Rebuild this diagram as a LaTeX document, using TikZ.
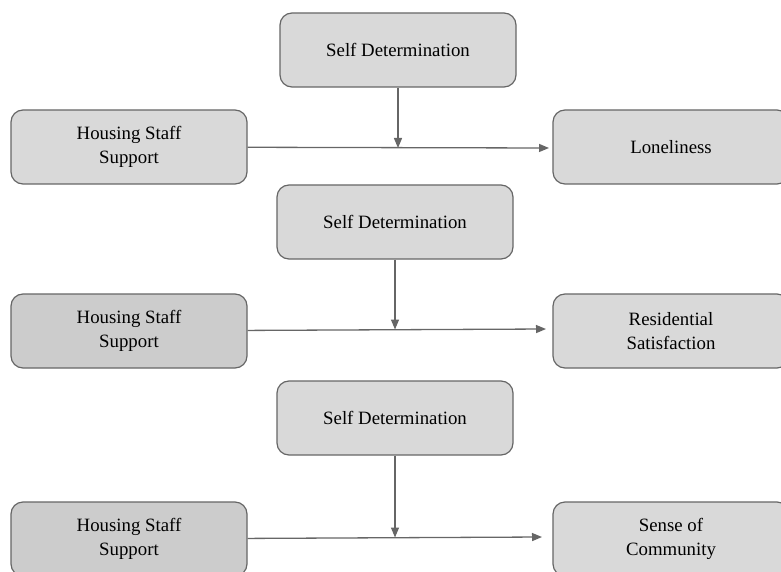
\documentclass[tikz,border=0pt]{standalone}
\usepackage{fontspec}
\setmainfont{Liberation Serif}
\usetikzlibrary{arrows.meta}
\definecolor{boxline}{HTML}{666666}
\definecolor{boxfill}{HTML}{D9D9D9}
\definecolor{darkfill}{HTML}{CCCCCC}
\tikzset{>={Triangle[length=10pt,width=8pt]}}
\tikzstyle{factor}=[rectangle,draw=boxline,fill=boxfill,line width=1.2pt,rounded corners=12pt,align=center,font=\fontsize{18.8}{23.5}\selectfont]
\tikzstyle{link}=[->,draw=boxline,line width=1.3pt]

\begin{document}
\begin{tikzpicture}[x=1pt,y=-1pt,inner sep=1mm]
\def \wid {236};
\def \hi {74};
\useasboundingbox (0,0) rectangle (781,572);
\clip (0,0) rectangle (781,572);

% moderator boxes
\foreach \i/\x/\y in {1/398/50, 2/395/222, 3/395/418} {
	\node[factor,minimum width= \wid pt,minimum height= \hi pt] (sd\i)
	at (\x,\y) {Self Determination};
};

% predictor boxes
\foreach \i/\y/\col in {1/147/boxfill, 2/331/darkfill, 3/539/darkfill} {
	\node[factor,fill=\col,minimum width= \wid pt,minimum height= \hi pt] (hss\i)
	at (129,\y) {Housing Staff\\Support};
};

% outcome boxes
\node[factor,minimum width= \wid pt,minimum height= \hi pt] (out1) at (671,147) {Loneliness};
\node[factor,minimum width= \wid pt,minimum height= \hi pt] (out2) at (671,331) {Residential\\Satisfaction};
\node[factor,minimum width= \wid pt,minimum height= \hi pt] (out3) at (671,539) {Sense of\\Community};

\coordinate (tip1) at (549,148);
\coordinate (tip2) at (546,329);
\coordinate (tip3) at (542,537);
\coordinate (mid1) at (398,148);
\coordinate (mid2) at (395,329.5);
\coordinate (mid3) at (395,537.5);

\foreach \i in {1,2,3} {
	\draw[link] (hss\i) -- (tip\i);
	\draw[link] (sd\i) -- (mid\i);
};

\end{tikzpicture}
\end{document}
